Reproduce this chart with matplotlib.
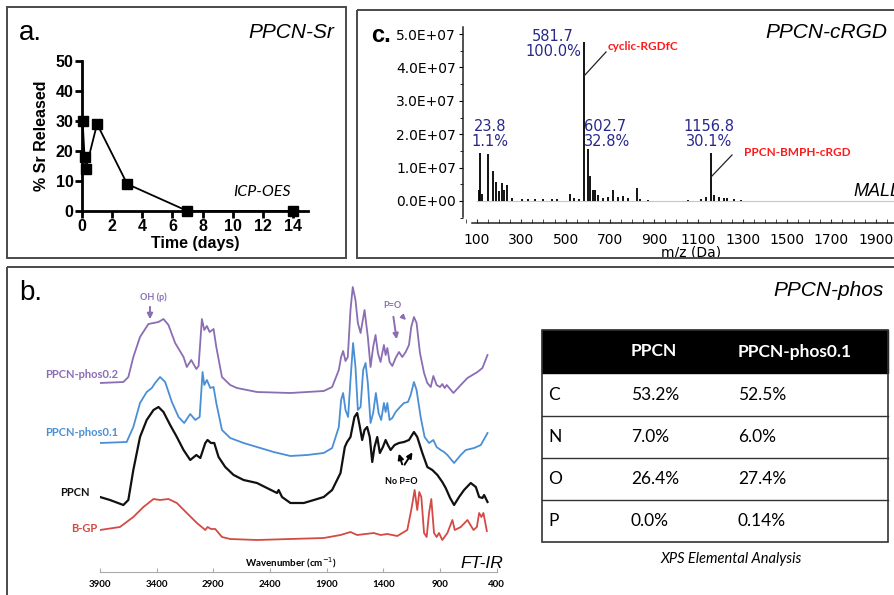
import numpy as np
import matplotlib
matplotlib.use('Agg')
import matplotlib.pyplot as plt
from matplotlib.patches import Rectangle
from matplotlib.ticker import MultipleLocator, AutoMinorLocator

# a. Sr release (ICP-OES)
time_days = [0.04, 0.17, 0.25, 1, 3, 7, 14]
sr_released = [30, 18, 14, 29, 9, 0, 0]

# c. MALDI peaks, intensity in units of 1e7
mz = [110, 115, 122, 148, 173, 188, 200, 211, 222, 235, 260, 305, 330, 360, 400, 440, 460,
      521, 536, 559, 581.7, 602.7, 611, 623, 634, 648, 671, 693, 716, 738, 761, 780, 821, 835,
      870, 1052, 1112, 1135, 1156.8, 1172, 1194, 1217, 1230, 1261, 1291]
mz_int = [0.33, 1.45, 0.2, 1.42, 0.90, 0.58, 0.3, 0.55, 0.33, 0.48, 0.1, 0.06, 0.05, 0.05, 0.05, 0.06, 0.05,
          0.21, 0.10, 0.07, 4.75, 1.56, 0.75, 0.33, 0.33, 0.18, 0.10, 0.12, 0.33, 0.12, 0.15, 0.08, 0.40, 0.07,
          0.03, 0.04, 0.07, 0.12, 1.43, 0.18, 0.12, 0.10, 0.08, 0.05, 0.04]
ms_yticks = [0, 1, 2, 3, 4, 5]
ms_xticks = [100, 300, 500, 700, 900, 1100, 1300, 1500, 1700, 1900]

# b. FT-IR spectra (wavenumber, offset absorbance a.u.)
phos02 = [(3900, 189), (3694, 190), (3650, 195), (3606, 215), (3547, 235), (3473, 248), (3428, 249),
          (3384, 250), (3340, 253), (3296, 247), (3237, 229), (3163, 215), (3134, 205), (3095, 212),
          (3050, 203), (3030, 206), (3001, 253), (2980, 242), (2957, 246), (2933, 240), (2898, 243),
          (2874, 225), (2824, 195), (2751, 187), (2692, 184), (2515, 180), (2220, 179), (1926, 181),
          (1852, 185), (1793, 202), (1773, 215), (1755, 221), (1734, 211), (1714, 215), (1690, 262),
          (1670, 285), (1646, 272), (1625, 249), (1601, 239), (1566, 262), (1537, 235), (1513, 205),
          (1490, 225), (1469, 237), (1448, 219), (1425, 210), (1395, 227), (1380, 217), (1365, 224),
          (1345, 210), (1321, 206), (1292, 214), (1262, 220), (1233, 215), (1203, 220), (1174, 227),
          (1154, 245), (1130, 255), (1107, 249), (1077, 219), (1041, 199), (1012, 189), (982, 185),
          (959, 196), (930, 187), (900, 185), (880, 188), (859, 184), (841, 187), (782, 179),
          (717, 187), (658, 194), (570, 200), (526, 204), (481, 217)]
phos01 = [(3900, 129), (3665, 130), (3606, 145), (3547, 169), (3488, 180), (3443, 184), (3414, 189),
          (3370, 195), (3325, 190), (3266, 170), (3207, 155), (3157, 149), (3104, 158), (3059, 152),
          (3021, 155), (2995, 200), (2980, 187), (2957, 192), (2927, 184), (2898, 185), (2874, 169),
          (2824, 142), (2751, 134), (2633, 129), (2515, 125), (2368, 120), (2220, 116), (2072, 117),
          (1926, 119), (1852, 124), (1793, 145), (1773, 172), (1755, 179), (1734, 162), (1711, 155),
          (1690, 192), (1667, 229), (1646, 205), (1625, 162), (1601, 165), (1578, 202), (1557, 209),
          (1537, 189), (1513, 149), (1490, 159), (1466, 179), (1442, 159), (1419, 152), (1395, 169),
          (1380, 160), (1365, 169), (1345, 152), (1321, 154), (1292, 160), (1253, 165), (1218, 169),
          (1183, 170), (1159, 177), (1130, 190), (1107, 182), (1071, 155), (1036, 135), (997, 129),
          (959, 132), (930, 125), (894, 122), (865, 120), (835, 117), (776, 109), (717, 117),
          (673, 122), (599, 124), (540, 127), (481, 139)]
ppcn = [(3900, 75), (3812, 72), (3694, 67), (3650, 72), (3606, 102), (3547, 135), (3488, 152),
        (3428, 162), (3384, 165), (3340, 160), (3281, 147), (3222, 135), (3163, 122), (3104, 112),
        (3050, 117), (3015, 114), (2971, 129), (2951, 132), (2921, 129), (2892, 129), (2854, 115),
        (2795, 105), (2721, 97), (2633, 92), (2515, 89), (2427, 84), (2338, 79), (2324, 82),
        (2294, 75), (2220, 69), (2102, 69), (2013, 72), (1926, 75), (1852, 82), (1778, 99),
        (1740, 125), (1720, 130), (1690, 135), (1655, 155), (1631, 159), (1607, 145), (1587, 132),
        (1566, 142), (1543, 145), (1520, 135), (1498, 110), (1478, 125), (1454, 135), (1431, 119),
        (1404, 125), (1380, 132), (1360, 127), (1336, 122), (1301, 127), (1262, 129), (1218, 130),
        (1174, 132), (1130, 140), (1101, 135), (1056, 119), (1012, 105), (968, 102), (923, 97),
        (880, 90), (850, 84), (811, 74), (776, 67), (732, 75), (688, 82), (629, 89), (584, 85),
        (555, 75), (526, 74), (511, 77), (481, 70)]
bgp = [(3900, 42), (3724, 45), (3606, 55), (3517, 65), (3428, 73), (3370, 72), (3296, 73), (3222, 69),
       (3134, 59), (3045, 49), (2971, 42), (2951, 45), (2921, 43), (2883, 43), (2824, 35), (2751, 33),
       (2515, 32), (2220, 33), (1926, 34), (1778, 37), (1690, 40), (1631, 37), (1484, 39), (1425, 37),
       (1365, 38), (1277, 36), (1189, 42), (1154, 62), (1124, 82), (1101, 62), (1083, 80), (1065, 75),
       (1041, 39), (1018, 35), (997, 59), (977, 73), (953, 39), (930, 35), (909, 39), (880, 32),
       (835, 39), (791, 52), (770, 42), (717, 45), (658, 52), (605, 42), (575, 45), (555, 59),
       (535, 55), (517, 59), (487, 41)]
ir_names = ['PPCN-phos0.2', 'PPCN-phos0.1', 'PPCN', 'B-GP']
ir_colors = ['#8b6db3', '#4a8fd6', '#111111', '#d44a44']
ir_ticks = [3900, 3400, 2900, 2400, 1900, 1400, 900, 400]

# XPS table
xps_header = ['', 'PPCN', 'PPCN-phos0.1']
xps_elem = ['C', 'N', 'O', 'P']
xps_ppcn = ['53.2%', '7.0%', '26.4%', '0.0%']
xps_phos = ['52.5%', '6.0%', '27.4%', '0.14%']

W, H = 895, 595
fig = plt.figure(figsize=(W / 100, H / 100), dpi=100)


def rect(l, t, r, b):
    return [l / W, 1 - b / H, (r - l) / W, (b - t) / H]


ARIAL = 'Liberation Sans'
CAL = 'Lato'

# ---------------- panel a
ax = fig.add_axes(rect(82, 61, 308, 211))
ax.plot(time_days, sr_released, '-s', color='black', ms=7, lw=1.3, clip_on=False, zorder=3)
ax.set_xlim(0, 15)
ax.set_ylim(0, 50)
for s in ['top', 'right']:
    ax.spines[s].set_visible(False)
for s in ['left', 'bottom']:
    ax.spines[s].set_linewidth(2)
ax.set_xticks(range(0, 15, 2), [str(v) for v in range(0, 15, 2)], fontweight='bold', family=ARIAL, fontsize=11.5)
ax.set_yticks(range(0, 51, 10), [str(v) for v in range(0, 51, 10)], fontweight='bold', family=ARIAL, fontsize=11.5)
ax.tick_params(width=2, length=5, pad=1)
ax.set_xlabel('Time (days)', fontweight='bold', family=ARIAL, fontsize=11.5, labelpad=1)
ax.set_ylabel('% Sr Released', fontweight='bold', family=ARIAL, fontsize=11.5, labelpad=5)
ax.patch.set_visible(False)

# ---------------- panel c
ms_lo, ms_hi = 100 + (463 - 477) / 0.2215, 100 + (920 - 477) / 0.2215
axc = fig.add_axes(rect(463, 27, 920, 223))
axc.vlines(mz, 0, mz_int, color='black', lw=1.3)
axc.plot([100, ms_hi], [0, 0], color='#c8c8c8', lw=0.8, zorder=0)
axc.set_xlim(ms_lo, ms_hi)
axc.set_ylim((201 - 223) / 33.4, (201 - 27) / 33.4)
for s in ['top', 'right']:
    axc.spines[s].set_visible(False)
axc.spines['left'].set_bounds(-0.48, 5.21)
axc.spines['bottom'].set_bounds(76, ms_hi)
for s in ['left', 'bottom']:
    axc.spines[s].set_linewidth(1.1)
    axc.spines[s].set_color('#222')
axc.set_yticks(ms_yticks, ['%.1E' % (v * 1e7) for v in ms_yticks], fontsize=10)
axc.set_xticks(ms_xticks, [str(v) for v in ms_xticks], fontsize=10)
axc.xaxis.set_minor_locator(MultipleLocator(50))
axc.yaxis.set_minor_locator(AutoMinorLocator(2))
axc.tick_params(axis='x', which='both', direction='in', length=3, pad=7, color='#333')
axc.tick_params(axis='y', which='major', direction='out', length=3, pad=2)
axc.tick_params(axis='y', which='minor', direction='out', length=2)
axc.set_xlabel('m/z (Da)', fontsize=10, labelpad=-1)
axc.patch.set_visible(False)

# ---------------- panel b spectra
axb = fig.add_axes(rect(100, 272, 496.7, 572))
for pts, col in zip([phos02, phos01, ppcn, bgp], ir_colors):
    xy = np.array(pts)
    axb.plot(xy[:, 0], xy[:, 1], color=col, lw=1.6 if col == '#111111' else 1.3)
axb.set_xlim(3900, 400)
axb.set_ylim(0, 300)
for s in ['top', 'right', 'left']:
    axb.spines[s].set_visible(False)
axb.spines['bottom'].set_color('#aaaaaa')
axb.set_yticks([])
axb.set_xticks(ir_ticks, [str(v) for v in ir_ticks], fontsize=7, fontweight='bold', family=CAL)
axb.tick_params(axis='x', direction='in', length=3, color='#aaaaaa', pad=6)
axb.patch.set_visible(False)

# ---------------- overlay: boxes, labels, table
ov = fig.add_axes([0, 0, 1, 1])
ov.set_xlim(0, W)
ov.set_ylim(H, 0)
ov.axis('off')
for (l, t, w, h) in [(7, 7, 339, 251), (357, 10, 600, 248), (7, 267, 900, 400)]:
    ov.add_patch(Rectangle((l, t), w, h, fill=False, ec='#4a4a4a', lw=1.4))

# panel a text
ov.text(19, 33, 'a.', fontsize=20, family=ARIAL, va='center')
ov.text(334, 32, 'PPCN-Sr', fontsize=15, family=ARIAL, style='italic', ha='right', va='center')
ov.text(262, 192, 'ICP-OES', fontsize=11.5, family=CAL, style='italic', ha='center', va='center')

# panel c text
navy = '#28288c'
ov.text(371, 35, 'c.', fontsize=17, family=ARIAL, fontweight='bold', va='center')
ov.text(765, 33, 'PPCN-cRGD', fontsize=15, family=ARIAL, style='italic', va='center')
ov.text(853, 192, 'MALDI-TOF', fontsize=13, family=ARIAL, style='italic', va='center')
peak_tags = ['581.7\n100.0%', '23.8\n1.1%', '602.7\n32.8%', '1156.8\n30.1%']
tag_pos = [(553, 44, 'center'), (490, 134, 'center'), (584, 134, 'left'), (709, 134, 'center')]
for txt, (x, y, ha) in zip(peak_tags, tag_pos):
    ov.text(x, y, txt, color=navy, fontsize=10.5, ha=ha, va='center', linespacing=1.05)
red = '#ff1a1a'
ov.text(608, 47, 'cyclic-RGDfC', color=red, fontsize=8.5, family=CAL, fontweight='bold', va='center')
ov.plot([584, 606], [76, 52], color='#222', lw=0.9)
ov.text(744, 153, 'PPCN-BMPH-cRGD', color=red, fontsize=8.5, family=CAL, fontweight='bold', va='center')
ov.plot([711, 732], [177, 155], color='#222', lw=0.9)

# panel b text
ov.text(19, 293, 'b.', fontsize=20, family=ARIAL, va='center')
ov.text(773, 290, 'PPCN-phos', fontsize=15, family=ARIAL, style='italic', va='center')
ov.text(460, 563, 'FT-IR', fontsize=12.5, family=ARIAL, style='italic', va='center')
ov.text(291, 563, 'Wavenumber (cm$^{-1}$)', fontsize=7, family=CAL, fontweight='bold', ha='center', va='center')
name_pos = [(118, 375), (118, 433), (90, 493), (97, 528)]
for name, col, (x, y) in zip(ir_names, ir_colors, name_pos):
    ov.text(x, y, name, color=col, fontsize=8, family=CAL, fontweight='bold', ha='right', va='center')
purple = ir_colors[0]
ov.text(153, 297, 'OH (p)', color=purple, fontsize=6.5, family=CAL, fontweight='bold', ha='center', va='center')
ov.annotate('', xy=(150, 322), xytext=(150, 304),
            arrowprops=dict(arrowstyle='-|>', color=purple, lw=1.4, mutation_scale=8))
ov.text(392, 305, 'P=O', color=purple, fontsize=6.5, family=CAL, fontweight='bold', ha='center', va='center')
ov.annotate('', xy=(397, 342), xytext=(393, 314),
            arrowprops=dict(arrowstyle='-|>', color=purple, lw=1.4, mutation_scale=8))
ov.annotate('', xy=(408, 322), xytext=(400, 314),
            arrowprops=dict(arrowstyle='-|>', color=purple, lw=1.2, mutation_scale=7))
ov.text(401, 482, 'No P=O', color='black', fontsize=6.5, family=CAL, fontweight='bold', ha='center', va='center')
ov.annotate('', xy=(398, 451), xytext=(403, 467),
            arrowprops=dict(arrowstyle='-|>', color='black', lw=1.4, mutation_scale=8))
ov.annotate('', xy=(414, 450), xytext=(403, 467),
            arrowprops=dict(arrowstyle='-|>', color='black', lw=1.4, mutation_scale=8))

# XPS table
tl, tr = 542, 888
row_y = [330, 373, 416, 458, 500, 542]
col_x = [548, 631, 738]
ov.add_patch(Rectangle((tl, row_y[0]), tr - tl, row_y[1] - row_y[0], fc='black', ec='black'))
ov.add_patch(Rectangle((tl, row_y[0]), tr - tl, row_y[-1] - row_y[0], fill=False, ec='#333', lw=1.2))
for y in row_y[2:-1]:
    ov.plot([tl, tr], [y, y], color='#333', lw=1.0)
for x, h in zip(col_x, xps_header):
    ov.text(x, (row_y[0] + row_y[1]) / 2, h, color='white', fontsize=12.5, family=CAL,
            fontweight='bold', va='center')
for i, row in enumerate(zip(xps_elem, xps_ppcn, xps_phos)):
    yc = (row_y[i + 1] + row_y[i + 2]) / 2
    for x, s in zip(col_x, row):
        ov.text(x, yc, s, fontsize=12.5, family=CAL, va='center')
ov.text(731, 559, 'XPS Elemental Analysis', fontsize=10.5, family=CAL, style='italic', ha='center', va='center')

fig.savefig('out.png', dpi=100)
